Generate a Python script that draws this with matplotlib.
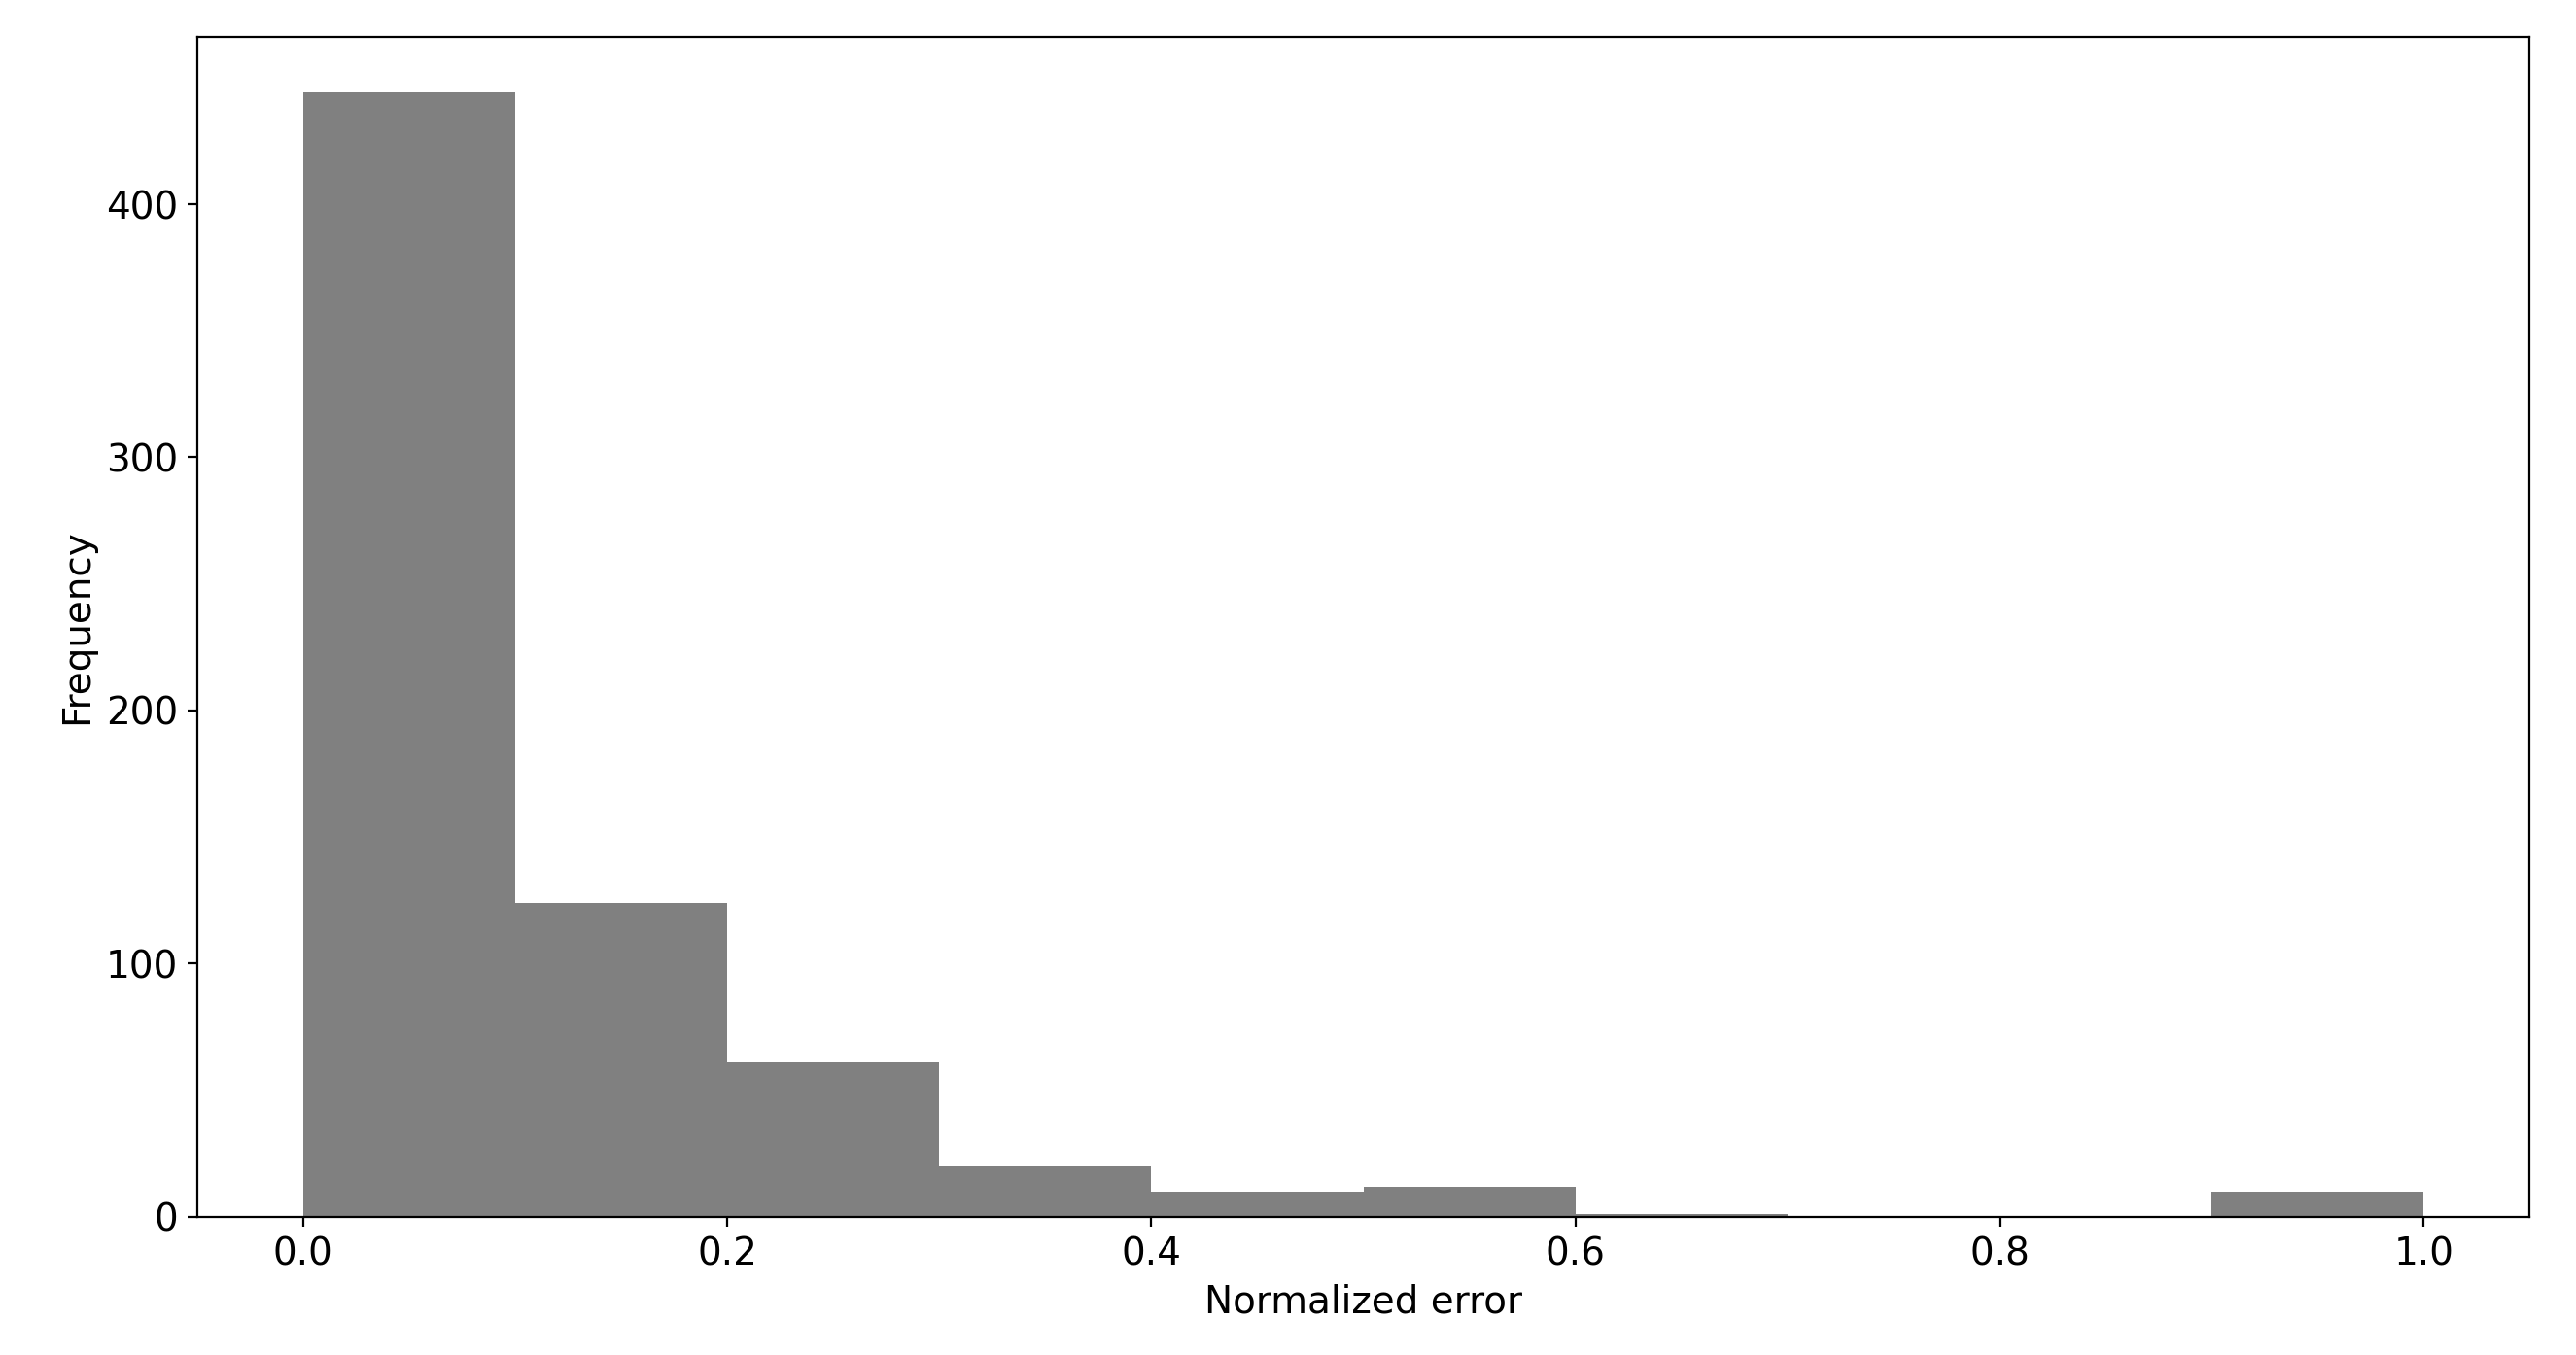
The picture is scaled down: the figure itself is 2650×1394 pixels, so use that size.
import matplotlib
matplotlib.use("Agg")
import matplotlib.pyplot as plt
import numpy as np

bin_edges = [0.0, 0.1, 0.2, 0.3, 0.4, 0.5, 0.6, 0.7, 0.8, 0.9, 1.0]
counts = [444, 124, 61, 20, 10, 12, 1, 0, 0, 10]

fig = plt.figure(figsize=(13.25, 6.97), dpi=200)
ax = fig.add_axes([0.0765, 0.102, 0.9055, 0.871])

centers = np.array(bin_edges[:-1])
ax.hist(centers + 0.05, bins=bin_edges, weights=counts, color="gray")

ax.set_xlabel("Normalized error", fontsize=14)
ax.set_ylabel("Frequency", fontsize=14)
ax.tick_params(labelsize=14)
ax.set_yticks([0, 100, 200, 300, 400])

fig.savefig("out.png")
